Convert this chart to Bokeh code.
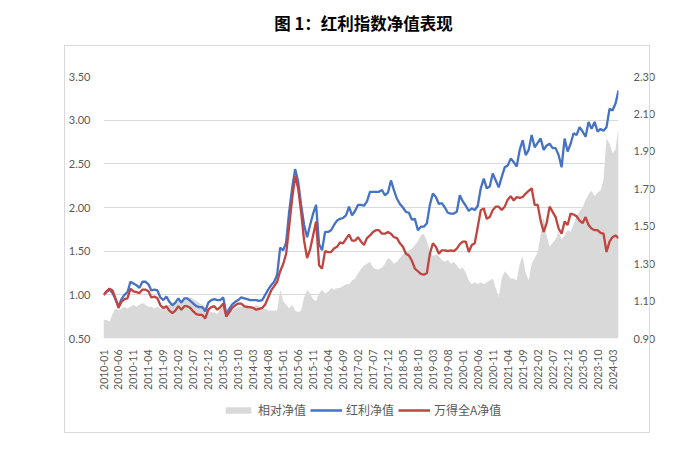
import math
from bokeh.plotting import figure
from bokeh.layouts import column
from bokeh.models import (Range1d, LinearAxis, FixedTicker, Legend, LegendItem, Label,
                          NumeralTickFormatter, ColumnDataSource, InlineStyleSheet)
from bokeh.embed import file_html
from bokeh.resources import INLINE

# ---- data (monthly, 2010-01 .. 2024-05) ----
months = [f"{2010 + k // 12}-{k % 12 + 1:02d}" for k in range(173)]

tick_labels = ["2010-01", "2010-06", "2010-11", "2011-04", "2011-09", "2012-02", "2012-07",
               "2012-12", "2013-05", "2013-10", "2014-03", "2014-08", "2015-01", "2015-06",
               "2015-11", "2016-04", "2016-09", "2017-02", "2017-07", "2017-12", "2018-05",
               "2018-10", "2019-03", "2019-08", "2020-01", "2020-06", "2020-11", "2021-04",
               "2021-09", "2022-02", "2022-07", "2022-12", "2023-05", "2023-10", "2024-03"]

left_ticks = [0.5, 1.0, 1.5, 2.0, 2.5, 3.0, 3.5]
right_ticks = [0.9, 1.1, 1.3, 1.5, 1.7, 1.9, 2.1, 2.3]

dividend_nav = [1.00, 1.03, 1.06, 1.02, 0.95, 0.87, 0.95, 1.00, 1.03, 1.15,
                1.13, 1.11, 1.08, 1.15, 1.15, 1.12, 1.05, 1.06, 1.05, 0.97,
                0.94, 0.98, 0.92, 0.88, 0.91, 0.96, 0.91, 0.96, 0.96, 0.93,
                0.90, 0.87, 0.86, 0.86, 0.81, 0.91, 0.94, 0.95, 0.94, 0.94,
                0.97, 0.78, 0.84, 0.89, 0.92, 0.94, 0.97, 0.96, 0.95, 0.94,
                0.94, 0.94, 0.93, 0.94, 1.00, 1.06, 1.11, 1.15, 1.23, 1.54,
                1.51, 1.60, 1.95, 2.22, 2.44, 2.30, 2.03, 1.80, 1.66, 1.80,
                1.93, 2.03, 1.58, 1.51, 1.72, 1.72, 1.74, 1.80, 1.85, 1.87,
                1.88, 1.91, 2.01, 1.91, 1.96, 2.03, 2.03, 2.02, 2.07, 2.18,
                2.18, 2.18, 2.18, 2.20, 2.14, 2.17, 2.31, 2.20, 2.10, 2.04,
                2.00, 1.95, 1.94, 1.86, 1.87, 1.74, 1.78, 1.78, 1.82, 2.03,
                2.16, 2.12, 2.04, 2.05, 2.00, 1.94, 1.93, 1.93, 1.95, 2.14,
                2.07, 2.02, 1.96, 1.99, 1.97, 2.02, 2.22, 2.33, 2.22, 2.24,
                2.39, 2.31, 2.23, 2.35, 2.46, 2.48, 2.56, 2.52, 2.47, 2.66,
                2.77, 2.60, 2.66, 2.83, 2.69, 2.74, 2.79, 2.66, 2.71, 2.73,
                2.68, 2.68, 2.60, 2.46, 2.79, 2.64, 2.73, 2.85, 2.83, 2.92,
                2.87, 2.81, 2.98, 2.90, 2.98, 2.87, 2.90, 2.88, 2.92, 3.13,
                3.11, 3.19, 3.34]

wind_a_nav = [1.00, 1.04, 1.07, 1.05, 0.96, 0.85, 0.92, 0.95, 0.96, 1.07,
              1.04, 1.03, 1.02, 1.06, 1.06, 1.04, 0.97, 0.98, 0.96, 0.88,
              0.85, 0.87, 0.82, 0.79, 0.82, 0.87, 0.83, 0.87, 0.87, 0.85,
              0.81, 0.78, 0.77, 0.77, 0.73, 0.83, 0.86, 0.87, 0.83, 0.86,
              0.90, 0.75, 0.80, 0.85, 0.88, 0.90, 0.90, 0.87, 0.86, 0.86,
              0.85, 0.83, 0.84, 0.85, 0.89, 0.97, 1.05, 1.10, 1.15, 1.27,
              1.35, 1.47, 1.78, 2.10, 2.36, 2.22, 1.95, 1.62, 1.42, 1.52,
              1.68, 1.84, 1.34, 1.30, 1.50, 1.49, 1.49, 1.53, 1.55, 1.60,
              1.59, 1.64, 1.69, 1.62, 1.62, 1.66, 1.61, 1.57, 1.65, 1.68,
              1.72, 1.74, 1.74, 1.70, 1.70, 1.72, 1.70, 1.66, 1.65, 1.59,
              1.55, 1.47, 1.45, 1.39, 1.30, 1.27, 1.24, 1.23, 1.25, 1.47,
              1.59, 1.55, 1.47, 1.51, 1.51, 1.50, 1.51, 1.50, 1.53, 1.58,
              1.61, 1.61, 1.49, 1.57, 1.59, 1.78, 1.97, 1.99, 1.87, 1.89,
              1.97, 2.01, 2.01, 1.97, 2.01, 2.09, 2.13, 2.08, 2.12, 2.11,
              2.12, 2.16, 2.19, 2.22, 2.03, 2.03, 1.85, 1.72, 1.82, 2.01,
              1.95, 1.89, 1.76, 1.70, 1.84, 1.80, 1.93, 1.92, 1.90, 1.85,
              1.82, 1.89, 1.80, 1.76, 1.74, 1.74, 1.71, 1.70, 1.49, 1.61,
              1.66, 1.68, 1.65]

relative_nav = [1.00, 1.00, 0.99, 1.03, 1.06, 1.05, 1.06, 1.07, 1.06, 1.07,
                1.08, 1.07, 1.08, 1.09, 1.08, 1.07, 1.07, 1.06, 1.07, 1.06,
                1.07, 1.07, 1.08, 1.09, 1.09, 1.10, 1.10, 1.11, 1.11, 1.12,
                1.11, 1.10, 1.09, 1.08, 1.07, 1.05, 1.04, 1.04, 1.03, 1.06,
                1.07, 1.03, 1.04, 1.05, 1.06, 1.07, 1.07, 1.08, 1.08, 1.07,
                1.07, 1.08, 1.07, 1.06, 1.06, 1.05, 1.05, 1.05, 1.05, 1.16,
                1.10, 1.08, 1.06, 1.08, 1.05, 1.04, 1.05, 1.12, 1.16, 1.14,
                1.11, 1.10, 1.14, 1.16, 1.14, 1.15, 1.17, 1.16, 1.17, 1.17,
                1.18, 1.19, 1.19, 1.21, 1.22, 1.25, 1.27, 1.29, 1.30, 1.31,
                1.28, 1.27, 1.27, 1.28, 1.30, 1.33, 1.32, 1.30, 1.31, 1.33,
                1.35, 1.36, 1.37, 1.38, 1.40, 1.42, 1.45, 1.46, 1.42, 1.37,
                1.34, 1.35, 1.34, 1.32, 1.31, 1.32, 1.30, 1.31, 1.29, 1.27,
                1.28, 1.25, 1.21, 1.19, 1.20, 1.19, 1.20, 1.19, 1.20, 1.21,
                1.22, 1.17, 1.12, 1.22, 1.26, 1.24, 1.22, 1.22, 1.21, 1.30,
                1.34, 1.25, 1.21, 1.30, 1.33, 1.36, 1.45, 1.55, 1.45, 1.39,
                1.41, 1.43, 1.47, 1.43, 1.45, 1.48, 1.47, 1.51, 1.55, 1.58,
                1.60, 1.64, 1.67, 1.69, 1.66, 1.68, 1.69, 1.75, 1.97, 1.94,
                1.89, 1.91, 2.03]

title_text = "图 1：红利指数净值表现"
series_names = ["相对净值", "红利净值", "万得全A净值"]

BLUE = "#4472c4"
RED = "#c0443f"
GRAY = "#d9d9d9"
LABEL_FONT = "Lato"
LABEL_COLOR = "#595959"
CJK = "Noto Sans CJK SC"

W = 700
TITLE_H = 45          # canvas rows 0..45
MAIN_H = 347          # canvas rows 45..392
LEG_H = 451 - TITLE_H - MAIN_H
FL, FR = 103, 618     # frame columns (frames of the stacked figures are aligned)
FT, FB = 76 - TITLE_H, 338 - TITLE_H   # frame rows inside the main figure

x = list(range(len(months)))
src = ColumnDataSource(dict(x=x, blue=dividend_nav, red=wind_a_nav, rel=relative_nav))


def strip(h):
    f = figure(width=W, height=h, output_backend="svg", toolbar_location=None,
               x_range=Range1d(0, 1), y_range=Range1d(-10, -9),
               x_axis_type=None, y_axis_type=None,
               min_border_left=FL, min_border_right=W - FR,
               min_border_top=0, min_border_bottom=0)
    f.outline_line_color = None
    f.grid.visible = False
    f.background_fill_color = "white"
    f.border_fill_color = "white"
    return f


# ---- title strip ----
ft = strip(TITLE_H)
ft.add_layout(Label(x=363 - FL, y=TITLE_H - 22, x_units="screen", y_units="screen",
                    text=title_text, text_align="center", text_baseline="middle",
                    text_font=CJK, text_font_style="bold",
                    text_font_size="16.5px", text_color="#000000"))

# ---- main chart ----
p = figure(width=W, height=MAIN_H, output_backend="svg", toolbar_location=None,
           x_range=Range1d(0, len(months) - 1), y_range=Range1d(0.5, 3.5),
           min_border_left=FL, min_border_right=W - FR,
           min_border_top=FT, min_border_bottom=MAIN_H - FB)
p.outline_line_color = None
p.background_fill_color = "white"
p.border_fill_color = "white"
p.extra_y_ranges = {"right": Range1d(0.9, 2.3)}

p.xaxis.ticker = FixedTicker(ticks=[months.index(t) for t in tick_labels])
p.xaxis.major_label_overrides = {months.index(t): t for t in tick_labels}
p.xaxis.major_label_orientation = math.pi / 2
p.xaxis.axis_line_color = None
p.xaxis.major_tick_line_color = None
p.xaxis.minor_tick_line_color = None
p.xaxis.major_label_standoff = 5
p.xaxis.major_label_text_font = LABEL_FONT
p.xaxis.major_label_text_font_size = "10.5px"
p.xaxis.major_label_text_color = LABEL_COLOR

p.yaxis.ticker = FixedTicker(ticks=left_ticks)
p.yaxis.formatter = NumeralTickFormatter(format="0.00")
p.yaxis.axis_line_color = None
p.yaxis.major_tick_line_color = None
p.yaxis.minor_tick_line_color = None
p.yaxis.major_label_standoff = 7
p.yaxis.major_label_text_font = LABEL_FONT
p.yaxis.major_label_text_font_size = "11px"
p.yaxis.major_label_text_color = LABEL_COLOR

ry = LinearAxis(y_range_name="right", ticker=FixedTicker(ticks=right_ticks),
                formatter=NumeralTickFormatter(format="0.00"))
ry.axis_line_color = None
ry.major_tick_line_color = None
ry.minor_tick_line_color = None
ry.major_label_standoff = 9
ry.major_label_text_font = LABEL_FONT
ry.major_label_text_font_size = "11px"
ry.major_label_text_color = LABEL_COLOR
p.add_layout(ry, "right")

p.xgrid.visible = False
p.ygrid.grid_line_color = GRAY
p.ygrid.grid_line_width = 1

p.varea(x="x", y1=0.9, y2="rel", source=src, y_range_name="right",
        fill_color=GRAY, fill_alpha=1.0)
p.line(x="x", y="blue", source=src, line_color=BLUE, line_width=2.3)
p.line(x="x", y="red", source=src, line_color=RED, line_width=2.3)

# ---- legend strip (same series, drawn outside this strip's view; only the legend shows) ----
fl = strip(LEG_H)
r_area = fl.varea(x="x", y1=0.9, y2="rel", source=src, fill_color=GRAY)
r_blue = fl.line(x="x", y="blue", source=src, line_color=BLUE, line_width=2.3)
r_red = fl.line(x="x", y="red", source=src, line_color=RED, line_width=2.3)
legend = Legend(items=[LegendItem(label=series_names[0], renderers=[r_area]),
                       LegendItem(label=series_names[1], renderers=[r_blue]),
                       LegendItem(label=series_names[2], renderers=[r_red])],
                orientation="horizontal", location=(222 - FL, LEG_H - 26),
                border_line_color=None, background_fill_alpha=0,
                label_text_font=CJK, label_text_font_size="12px",
                label_text_color=LABEL_COLOR, glyph_width=32, glyph_height=8,
                spacing=4, padding=0, margin=0, label_standoff=4)
fl.add_layout(legend)

layout = column(ft, p, fl, spacing=0)
layout.stylesheets = [InlineStyleSheet(css="""
:host::after {
  content: ""; position: absolute; pointer-events: none;
  left: 64px; top: 45px; width: 584px; height: 386px;
  border: 1px solid #d9d9d9;
}
""")]

open("out.html", "w").write(file_html(layout, INLINE))
